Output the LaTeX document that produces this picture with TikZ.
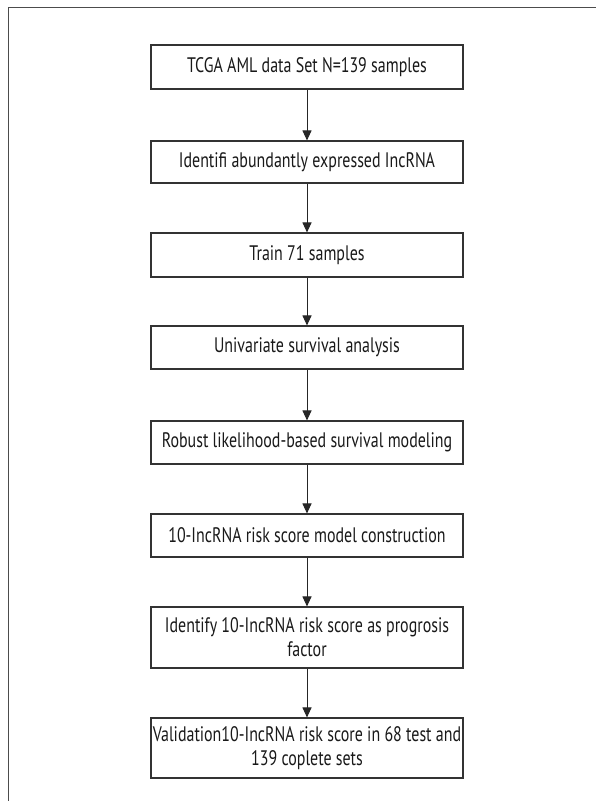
\documentclass[tikz,border=0pt]{standalone}
\usepackage{fontspec}
\setmainfont{PT Sans}[FakeStretch=0.76]
\usetikzlibrary{arrows.meta}
\begin{document}
\begin{tikzpicture}[x=1pt,y=-1pt,
  flowbox/.style={draw=black!80,line width=1.1pt,minimum width=312pt,inner sep=0pt,align=center,
    font=\fontsize{21}{24}\selectfont,text=black!90},
  flowarrow/.style={draw=black!85,line width=1pt,-{Triangle[width=9pt,length=10pt]}}]
\useasboundingbox (0,0) rectangle (596,801);
\draw[black!70,line width=1pt] (8,810) -- (8,7) -- (605,7);
\node[flowbox,minimum height=44pt] (b1) at (307,67) {TCGA AML data Set N=139 samples};
\node[flowbox,minimum height=42pt] (b2) at (307,162) {Identifi abundantly expressed IncRNA};
\node[flowbox,minimum height=44pt] (b3) at (307,255) {Train 71 samples};
\node[flowbox,minimum height=43pt] (b4) at (307,347.5) {Univariate survival analysis};
\node[flowbox,minimum height=43pt] (b5) at (307,442.5) {Robust likelihood-based survival modeling};
\node[flowbox,minimum height=43pt] (b6) at (307,535.5) {10-IncRNA risk score model construction};
\node[flowbox,minimum height=61pt] (b7) at (307,637.5) {Identify 10-IncRNA risk score as progrosis\\factor};
\node[flowbox,minimum height=60pt] (b8) at (307,748) {Validation10-IncRNA risk score in 68 test and\\139 coplete sets};
\foreach \a/\b in {b1/b2,b2/b3,b3/b4,b4/b5,b5/b6,b6/b7,b7/b8}
  \draw[flowarrow] (\a) -- (\b);
\end{tikzpicture}
\end{document}
